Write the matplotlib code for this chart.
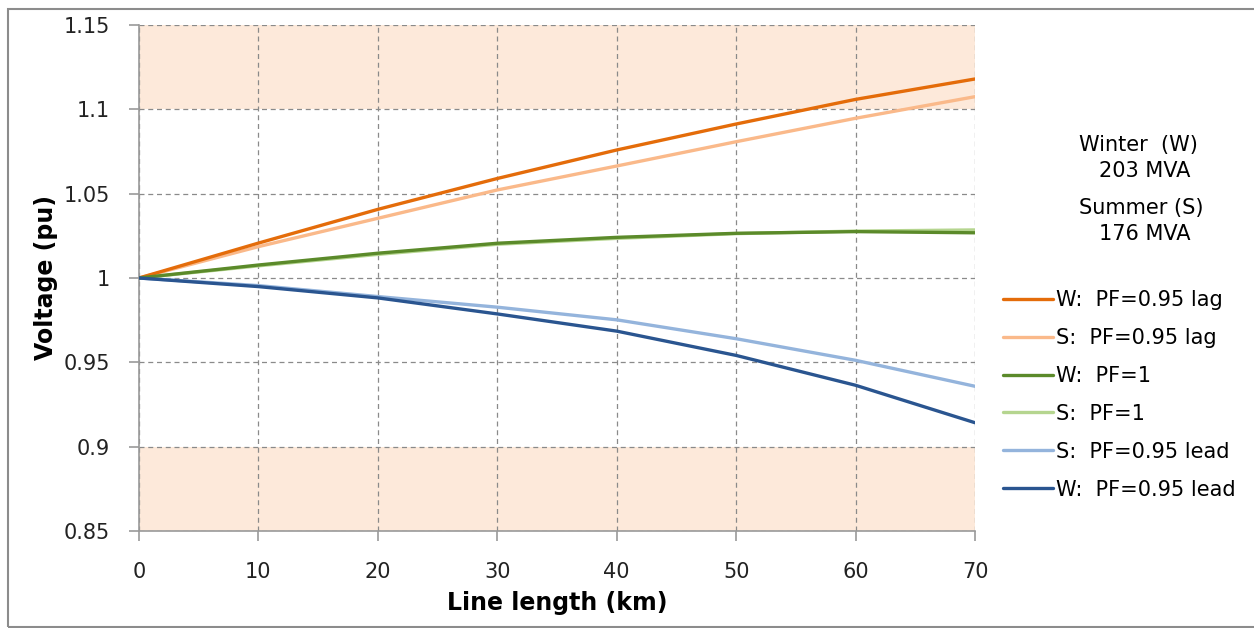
import matplotlib
matplotlib.use("Agg")
import matplotlib.pyplot as plt
from matplotlib.patches import Rectangle

# ----------------- data -----------------
length_km = [0, 10, 20, 30, 40, 50, 60, 70]

w_lag = [1.0, 1.0207, 1.0407, 1.0590, 1.0759, 1.0913, 1.1059, 1.1180]
s_lag = [1.0, 1.0186, 1.0354, 1.0522, 1.0664, 1.0808, 1.0947, 1.1075]
w_unity = [1.0, 1.0077, 1.0147, 1.0206, 1.0241, 1.0265, 1.0275, 1.0268]
s_unity = [1.0, 1.0072, 1.0140, 1.0200, 1.0235, 1.0263, 1.0278, 1.0285]
s_lead = [1.0, 0.9955, 0.9890, 0.9827, 0.9752, 0.9640, 0.9512, 0.9358]
w_lead = [1.0, 0.9949, 0.9882, 0.9787, 0.9685, 0.9541, 0.9364, 0.9142]

series_labels = ["W:  PF=0.95 lag", "S:  PF=0.95 lag", "W:  PF=1", "S:  PF=1",
                 "S:  PF=0.95 lead", "W:  PF=0.95 lead"]
series_colors = ["#E46C0A", "#FAB98A", "#5B8A2A", "#B5D58F", "#94B4DC", "#2A5590"]

y_ticks = [0.85, 0.9, 0.95, 1.0, 1.05, 1.1, 1.15]
y_ticklabels = ["0.85", "0.9", "0.95", "1", "1.05", "1.1", "1.15"]
limit_bands = [(0.85, 0.9), (1.1, 1.15)]
# -------------------------------------------------------------

fig = plt.figure(figsize=(12.54, 6.28), dpi=100)
ax = fig.add_axes([139 / 1254, 1 - 531 / 628, (975 - 139) / 1254, (531 - 25) / 628])

for lo, hi in limit_bands:
    ax.axhspan(lo, hi, color="#FDE9DA", zorder=0, lw=0)

all_series = [w_lag, s_lag, w_unity, s_unity, s_lead, w_lead]
# draw light ones first so the winter lines sit on top
draw_order = [1, 3, 4, 0, 2, 5]
lines = {}
for i in draw_order:
    ln, = ax.plot(length_km, all_series[i], color=series_colors[i], lw=2.4,
                  label=series_labels[i], solid_capstyle="round", zorder=3)
    lines[i] = ln

ax.set_xlim(0, 70)
ax.set_ylim(0.85, 1.15)
ax.set_xticks(range(0, 71, 10))
ax.set_yticks(y_ticks)
ax.set_yticklabels(y_ticklabels)

ax.grid(True, ls=(0, (4, 3)), color="#8a8a8a", lw=0.9)
ax.set_axisbelow(True)
for sp in ["top", "right"]:
    ax.spines[sp].set_visible(False)
for sp in ["left", "bottom"]:
    ax.spines[sp].set_color("#9a9a9a")
    ax.spines[sp].set_linewidth(1.2)

ax.tick_params(axis="both", direction="out", length=7, width=1.2, color="#9a9a9a",
               labelsize=15, labelcolor="#222222")
ax.tick_params(axis="y", pad=14)
ax.tick_params(axis="x", pad=15)

ax.set_xlabel("Line length (km)", fontsize=17, fontweight="bold", labelpad=7)
ax.set_ylabel("Voltage (pu)", fontsize=17, fontweight="bold", labelpad=4)

handles = [lines[i] for i in range(6)]
fig.legend(handles, series_labels, loc="upper left",
           bbox_to_anchor=(1003 / 1254, 1 - 290 / 628), frameon=False,
           fontsize=15, handlelength=2.4, handletextpad=0.15, labelspacing=0.86,
           borderaxespad=0, borderpad=0)

fig.text(1138 / 1254, 1 - 145 / 628, "Winter  (W)", ha="center", va="center", fontsize=15)
fig.text(1145 / 1254, 1 - 171 / 628, "203 MVA", ha="center", va="center", fontsize=15)
fig.text(1141 / 1254, 1 - 208 / 628, "Summer (S)", ha="center", va="center", fontsize=15)
fig.text(1145 / 1254, 1 - 234 / 628, "176 MVA", ha="center", va="center", fontsize=15)

# outer chart frame (runs off the right edge like the original)
fig.add_artist(Rectangle((8 / 1254, 1 / 628), 1.2, 618 / 628, transform=fig.transFigure,
                         fill=False, edgecolor="#8c8c8c", lw=1.5, clip_on=False))

fig.savefig("out.png", dpi=100)
